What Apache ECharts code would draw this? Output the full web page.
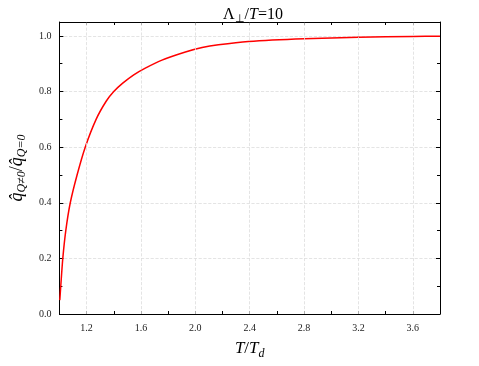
<!DOCTYPE html>
<html lang="en">
<head>
    <meta charset="UTF-8">
    <title>ratio vs T/Td</title>
    <script src="https://cdn.jsdelivr.net/npm/echarts@6/dist/echarts.min.js"></script>
    <style>
        body { margin: 0; background: #fff; }
        #main { width: 479px; height: 366px; }
    </style>
</head>
<body>
<div id="main"></div>
<script>
    // values
    var tRatio = [1.003, 1.01, 1.025, 1.047, 1.08, 1.13, 1.19, 1.27, 1.344, 1.40, 1.466, 1.547, 1.632, 1.75, 1.927, 2.05, 2.17, 2.39, 2.8, 3.2, 3.6, 3.8];
    var qRatio = [0.05, 0.10, 0.20, 0.30, 0.40, 0.50, 0.60, 0.70, 0.765, 0.80, 0.83, 0.86, 0.884, 0.912, 0.942, 0.958, 0.968, 0.980, 0.990, 0.995, 0.998, 0.999];
    var xTicks = [1.2, 1.6, 2.0, 2.4, 2.8, 3.2, 3.6];

    var pts = [];
    for (var i = 0; i < tRatio.length; i++) {
        pts.push([tRatio[i], qRatio[i]]);
    }

    var serif = 'Liberation Serif';
    var chart = echarts.init(document.getElementById('main'));

    var option = {
        backgroundColor: '#fff',
        animation: false,
        title: {
            text: '{n|Λ}{s|⊥}{n|/}{i|T}{n|=10}',
            left: 248,
            textAlign: 'center',
            top: 0,
            textStyle: {
                fontWeight: 'normal',
                rich: {
                    n: { fontFamily: serif, fontSize: 16, fontWeight: 'normal', color: '#000' },
                    i: { fontFamily: serif, fontSize: 16, fontWeight: 'normal', fontStyle: 'italic', color: '#000' },
                    s: { fontFamily: serif, fontSize: 11, fontWeight: 'normal', color: '#000', padding: [9, 0, 0, 0] }
                }
            }
        },
        grid: { left: 57, right: 39, top: 22, bottom: 52 },
        xAxis: [{
            type: 'value',
            min: 1.0,
            max: 3.8,
            interval: 0.2,
            name: '{i|T}{n|/}{i|T}{s|d}',
            nameLocation: 'middle',
            nameGap: 24,
            nameTextStyle: {
                rich: {
                    n: { fontFamily: serif, fontSize: 17, color: '#000' },
                    i: { fontFamily: serif, fontSize: 17, fontStyle: 'italic', color: '#000' },
                    s: { fontFamily: serif, fontSize: 12, fontStyle: 'italic', color: '#000', padding: [10, 0, 0, 0] }
                }
            },
            axisLine: { onZero: false, lineStyle: { color: '#000', width: 1 } },
            axisTick: { inside: true, length: 3, lineStyle: { color: '#000' } },
            axisLabel: {
                fontFamily: serif, fontSize: 10, color: '#222', margin: 9,
                formatter: function (v) {
                    var k = Math.round((v - 1.2) / 0.2);
                    return (k >= 0 && k % 2 === 0) ? v.toFixed(1) : '';
                }
            },
            splitLine: { show: false }
        }, {
            type: 'value',
            position: 'top',
            min: 1.0,
            max: 3.8,
            interval: 0.2,
            axisLine: { onZero: false, lineStyle: { color: '#000', width: 1 } },
            axisTick: { inside: true, length: 3, lineStyle: { color: '#000' } },
            axisLabel: { show: false },
            splitLine: { show: false }
        }],
        yAxis: [{
            type: 'value',
            min: 0,
            max: 1.05,
            interval: 0.2,
            name: '{i|q̂}{s|Q≠0}{n|/}{i|q̂}{s|Q=0}',
            nameLocation: 'middle',
            nameRotate: 90,
            nameGap: 28,
            nameTextStyle: {
                rich: {
                    n: { fontFamily: serif, fontSize: 18, color: '#000' },
                    i: { fontFamily: serif, fontSize: 18, fontStyle: 'italic', color: '#000' },
                    s: { fontFamily: serif, fontSize: 12, fontStyle: 'italic', color: '#000', padding: [10, 0, 0, 0] }
                }
            },
            axisLine: { onZero: false, lineStyle: { color: '#000', width: 1 } },
            axisTick: { inside: true, length: 4, lineStyle: { color: '#000' } },
            minorTick: { show: true, splitNumber: 2, length: 3, lineStyle: { color: '#000' } },
            axisLabel: {
                fontFamily: serif, fontSize: 10, color: '#222', margin: 8,
                formatter: function (v) {
                    return v <= 1.0001 ? v.toFixed(1) : '';
                }
            },
            splitLine: { show: true, lineStyle: { color: '#ddd', type: 'dashed', width: 0.8 } }
        }, {
            type: 'value',
            position: 'right',
            min: 0,
            max: 1.05,
            interval: 0.2,
            axisLine: { onZero: false, lineStyle: { color: '#000', width: 1 } },
            axisTick: { inside: true, length: 4, lineStyle: { color: '#000' } },
            minorTick: { show: true, splitNumber: 2, length: 3, lineStyle: { color: '#000' } },
            axisLabel: { show: false },
            splitLine: { show: false }
        }],
        series: [{
            type: 'line',
            data: pts,
            showSymbol: false,
            smooth: 0.25,
            lineStyle: { color: '#ff0000', width: 1.5 },
            markLine: {
                silent: true,
                symbol: 'none',
                label: { show: false },
                lineStyle: { color: '#ddd', type: 'dashed', width: 0.8 },
                data: xTicks.map(function (v) { return { xAxis: v }; })
            },
            z: 3
        }]
    };
    chart.setOption(option);
</script>
</body>
</html>
